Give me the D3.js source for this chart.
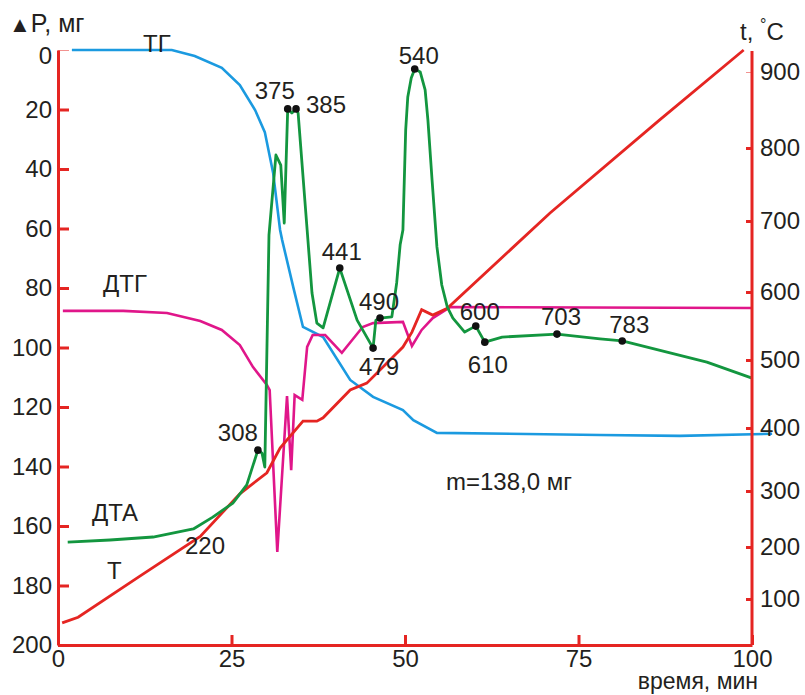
<!DOCTYPE html>
<html>
<head>
<meta charset="utf-8">
<script src="https://cdn.jsdelivr.net/npm/d3@7"></script>
<style>
  body { margin: 0; background: #fff; }
  svg text { font-family: "Liberation Sans", Arial, sans-serif; fill: #231f20; }
</style>
</head>
<body>
<div id="chart"></div>
<script>
// tick labels
const timeTicks = [0, 25, 50, 75, 100];
const massTicks = [0, 20, 40, 60, 80, 100, 120, 140, 160, 180, 200];
const tempTicks = [100, 200, 300, 400, 500, 600, 700, 800, 900];

// T curve: [time, min ; temperature, C]
const tCurve = [[0.6, 54], [2.9, 65], [11.8, 144], [20.5, 219], [26.2, 295], [30.1, 329],
  [32.0, 368], [35.3, 410], [37.3, 410], [38.2, 415], [42.1, 456], [44.5, 466],
  [49.7, 519], [51.0, 541], [52.4, 574], [54.0, 566], [56.1, 576], [70.9, 711],
  [86.7, 837], [98.8, 929]];

// TG curve: [time ; mass loss, mg]
const tgCurve = [[2.0, 0], [16.4, 0], [19.7, 2], [23.6, 6], [26.2, 11.8], [28.4, 20.2],
  [29.8, 27.6], [31.0, 41.3], [32.0, 60.5], [32.3, 63.9], [33.9, 79.7], [35.3, 93.1],
  [38.2, 96.5], [42.1, 110.9], [45.4, 116.6], [49.7, 121], [51.2, 124.4], [54.6, 128.7],
  [78.1, 129.4], [89.6, 129.7], [102.9, 129]];

// DTG curve (left axis units)
const dtgCurve = [[0.7, 87.7], [9.4, 87.7], [15.7, 88.4], [20.5, 91.1], [23.6, 94.1],
  [26.2, 99.2], [28.1, 106.6], [30.1, 112.6], [30.5, 114.3], [31.6, 168.7], [33.0, 116.3],
  [33.6, 141.2], [34.1, 116], [35.2, 117.6], [35.9, 99.8], [36.7, 95.8], [38.5, 95.8],
  [40.9, 101.8], [43.9, 93.1], [45.4, 91.8], [49.7, 91.4], [51.0, 99.5], [52.4, 94.1],
  [54.0, 90.1], [56.5, 86.4], [100, 86.7]];

// DTA curve (left axis units)
const dtaCurve = [[1.4, 165.4], [7.5, 164.7], [13.7, 163.7], [19.5, 161.0], [22.3, 157.0],
  [25.2, 152.3], [27.2, 146.2], [28.8, 134.5], [29.4, 135.5], [29.8, 140.2], [30.4, 62.2],
  [31.4, 35.3], [32.1, 38.7], [32.6, 58.2], [33.1, 19.8], [33.7, 21.2], [34.3, 19.8],
  [34.6, 21.2], [35.9, 60.5], [36.6, 81.7], [37.3, 91.8], [38.2, 93.4], [40.6, 73.3],
  [43.1, 90.8], [45.4, 100.2], [45.8, 90.8], [46.4, 90.1], [48.1, 89.7], [48.8, 78.3],
  [49.3, 65.5], [49.7, 60.5], [50.1, 26.9], [50.4, 15.8], [50.9, 9.4], [51.4, 6.4],
  [52.2, 7.4], [52.9, 13.4], [53.3, 23.5], [53.9, 43.7], [54.6, 66.2], [55.3, 79.0],
  [56.1, 86.4], [56.9, 90.1], [58.6, 94.8], [59.7, 93.4], [60.2, 92.8], [61.5, 98.2],
  [64.0, 96.5], [71.9, 95.5], [78.1, 97.1], [81.3, 97.8], [93.5, 104.9], [100, 110.3]];

// marked temperatures on DTA
const peaks = [
  { label: "308", t: 28.8, v: 134.5 }, { label: "375", t: 33.1, v: 19.8 },
  { label: "385", t: 34.3, v: 19.8 }, { label: "441", t: 40.6, v: 73.3 },
  { label: "479", t: 45.4, v: 100.2 }, { label: "490", t: 46.4, v: 90.1 },
  { label: "540", t: 51.4, v: 6.4 }, { label: "600", t: 60.2, v: 92.8 },
  { label: "610", t: 61.5, v: 98.2 }, { label: "703", t: 71.9, v: 95.5 },
  { label: "783", t: 81.3, v: 97.8 }];

// layout
const width = 805, height = 695;
const plot = { left: 58, right: 752, top: 50, bottom: 645 };
const tempTickY = [599, 547, 491, 428, 360, 292, 221, 148, 72];  // uneven right scale
const peakOffset = { "308": [-20, -9], "375": [-13, -10], "385": [30, 4], "441": [2, -8],
  "479": [6, 27], "490": [-1, -8], "540": [4, -5], "600": [4, -6], "610": [3, 31],
  "703": [4, -9], "783": [7, -8] };

const red = "#e52522", blue = "#1b9ae0", green = "#13963f", pink = "#e0168a";

const x = d3.scaleLinear().domain([0, 100]).range([plot.left, plot.right]);
const y = d3.scaleLinear().domain([0, 200]).range([plot.top, plot.bottom]);
const yT = d3.scaleLinear().domain(tempTicks).range(tempTickY);

const svg = d3.select("#chart").append("svg")
  .attr("width", width).attr("height", height);

// curves
const lineL = d3.line().x(d => x(d[0])).y(d => y(d[1]));
const lineT = d3.line().x(d => x(d[0])).y(d => yT(d[1]));

svg.append("path").datum(tgCurve).attr("d", lineL)
  .attr("fill", "none").attr("stroke", blue).attr("stroke-width", 2.6);
svg.append("path").datum(dtgCurve).attr("d", lineL)
  .attr("fill", "none").attr("stroke", pink).attr("stroke-width", 2.6);
svg.append("path").datum(tCurve).attr("d", lineT)
  .attr("fill", "none").attr("stroke", red).attr("stroke-width", 2.8);
svg.append("path").datum(dtaCurve).attr("d", lineL)
  .attr("fill", "none").attr("stroke", green).attr("stroke-width", 2.8)
  .attr("stroke-linejoin", "round");

// axes
const styleAxis = g => {
  g.select(".domain").attr("stroke", red).attr("stroke-width", 3);
  g.selectAll(".tick line").attr("stroke", red).attr("stroke-width", 3);
  g.selectAll(".tick text").attr("font-size", 24).attr("fill", "#231f20")
    .attr("font-family", "Liberation Sans, Arial, sans-serif");
};

svg.append("g").attr("transform", `translate(${plot.left},0)`)
  .call(d3.axisLeft(y).tickValues(massTicks).tickSize(-11).tickSizeOuter(0).tickPadding(6))
  .call(styleAxis)
  .call(g => g.selectAll(".tick").filter(d => d === 0).select("line")
    .attr("stroke-width", 1).attr("opacity", 0.5))
  .call(g => g.selectAll(".tick").filter(d => d === 0).select("text")
    .attr("y", 6));

svg.append("g").attr("transform", `translate(${plot.right},0)`)
  .call(d3.axisRight(yT).tickValues(tempTicks).tickSize(-6).tickPadding(8))
  .call(styleAxis)
  .call(g => g.select(".domain").attr("d", `M0,${plot.top + 1}V${plot.bottom}`))
  .call(g => g.selectAll(".tick").filter(d => d === 900).select("line")
    .attr("stroke-width", 1).attr("opacity", 0.5));

svg.append("g").attr("transform", `translate(0,${plot.bottom})`)
  .call(d3.axisBottom(x).tickValues(timeTicks).tickSize(-10).tickSizeOuter(0).tickPadding(5))
  .call(styleAxis);

// peak markers
svg.selectAll("circle.peak").data(peaks).join("circle")
  .attr("class", "peak")
  .attr("cx", d => x(d.t)).attr("cy", d => y(d.v)).attr("r", 3.8)
  .attr("fill", "#111");

svg.selectAll("text.peak").data(peaks).join("text")
  .attr("class", "peak")
  .attr("x", d => x(d.t) + peakOffset[d.label][0])
  .attr("y", d => y(d.v) + peakOffset[d.label][1])
  .attr("text-anchor", "middle").attr("font-size", 24)
  .text(d => d.label);

// labels
const labels = [
  { text: "ТГ", x: 143, y: 52 }, { text: "ДТГ", x: 103, y: 292 },
  { text: "ДТА", x: 92, y: 521 }, { text: "Т", x: 107, y: 579 },
  { text: "220", x: 185, y: 554 }, { text: "m=138,0 мг", x: 446, y: 490 }];

svg.selectAll("text.lbl").data(labels).join("text")
  .attr("class", "lbl")
  .attr("x", d => d.x).attr("y", d => d.y).attr("font-size", 24)
  .text(d => d.text);

const dp = svg.append("text").attr("x", 9).attr("y", 32)
  .style("font-size", "25px");
dp.append("tspan").style("font-size", "22px").text("▲");
dp.append("tspan").text("P, мг");

const tc = svg.append("text").attr("x", 740).attr("y", 40).style("font-size", "24px");
tc.append("tspan").text("t, ");
tc.append("tspan").style("font-size", "16px").attr("dy", -10).text("°");
tc.append("tspan").attr("dy", 10).text("C");

svg.append("text").attr("x", 758).attr("y", 689).attr("text-anchor", "end")
  .style("font-size", "23px").text("время, мин");
</script>
</body>
</html>
